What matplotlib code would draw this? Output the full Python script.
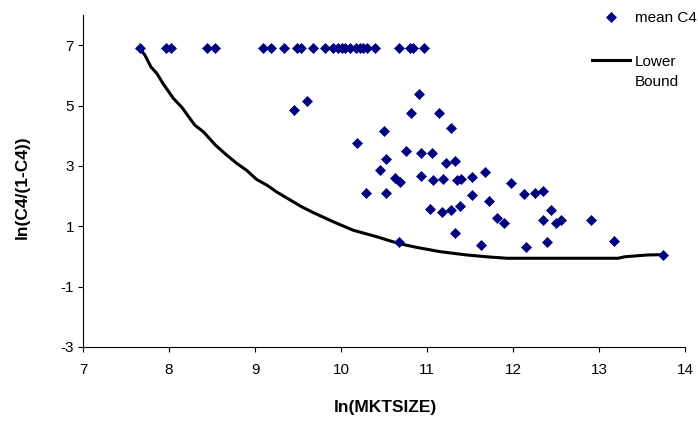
import matplotlib.pyplot as plt

plt.rcParams['font.family'] = ['Liberation Sans', 'DejaVu Sans']
plt.rcParams['font.size'] = 11

# ln(MKTSIZE) and ln(C4/(1-C4)) per market (C4 capped at 0.999 -> 6.9)
mktsize = [7.66, 7.96, 8.02, 8.44, 8.53, 9.09, 9.19, 9.34, 9.49, 9.54,
           9.68, 9.81, 9.91, 9.96, 10.01, 10.05, 10.11, 10.18, 10.22, 10.26,
           10.30, 10.40, 10.67, 10.80, 10.84, 10.97,
           9.45, 9.61, 10.91, 10.81, 11.14, 10.50, 11.28, 10.19, 10.76, 10.93,
           11.06, 10.52, 11.22, 11.32, 10.45, 11.67, 10.63, 10.69, 10.93, 11.07,
           11.19, 11.35, 11.40, 11.52, 10.29, 10.52, 11.52, 11.98, 12.13, 12.26,
           12.35, 11.72, 11.04, 11.17, 11.28, 11.38, 12.44, 11.81, 11.90, 12.35,
           12.50, 12.56, 12.91, 11.33, 10.67, 11.63, 12.15, 12.39, 13.18, 13.74]
c4_logit = [6.9, 6.9, 6.9, 6.9, 6.9, 6.9, 6.9, 6.9, 6.9, 6.9,
            6.9, 6.9, 6.9, 6.9, 6.9, 6.9, 6.9, 6.9, 6.9, 6.9,
            6.9, 6.9, 6.9, 6.9, 6.9, 6.9,
            4.85, 5.16, 5.37, 4.74, 4.74, 4.15, 4.26, 3.75, 3.48, 3.43,
            3.42, 3.22, 3.10, 3.16, 2.88, 2.80, 2.59, 2.47, 2.67, 2.53,
            2.57, 2.53, 2.57, 2.63, 2.10, 2.10, 2.04, 2.42, 2.06, 2.10,
            2.16, 1.84, 1.58, 1.47, 1.53, 1.68, 1.53, 1.27, 1.10, 1.21,
            1.12, 1.21, 1.21, 0.79, 0.47, 0.38, 0.32, 0.47, 0.51, 0.06]

# lower bound curve
lb_x = [7.66, 7.72, 7.79, 7.86, 7.93, 8.05, 8.15, 8.30, 8.40, 8.54,
        8.67, 8.79, 8.90, 9.02, 9.14, 9.25, 9.41, 9.54, 9.68, 9.91,
        10.14, 10.42, 10.67, 10.88, 11.15, 11.46, 11.69, 11.93, 12.24, 12.62,
        13.22, 13.30, 13.57, 13.74]
lb_y = [6.89, 6.67, 6.28, 6.06, 5.73, 5.24, 4.94, 4.35, 4.13, 3.69,
        3.36, 3.08, 2.86, 2.55, 2.36, 2.14, 1.87, 1.65, 1.45, 1.15,
        0.87, 0.65, 0.43, 0.30, 0.16, 0.05, -0.01, -0.06, -0.06, -0.06,
        -0.06, -0.01, 0.05, 0.06]

xticks = [7, 8, 9, 10, 11, 12, 13, 14]
yticks = [-3, -1, 1, 3, 5, 7]

fig = plt.figure(figsize=(6.98, 4.22), dpi=100)
ax = fig.add_axes([83/698, 1-347/422, 602/698, 332/422])

pts, = ax.plot(mktsize, c4_logit, linestyle='none', marker='D', markersize=5.2,
               color='#000080', markeredgewidth=0.5, label='mean C4', zorder=3)
lb, = ax.plot(lb_x, lb_y, color='black', linewidth=2.2, label='Lower', zorder=2)

ax.set_xlim(7, 14)
ax.set_ylim(-3, 8)
ax.set_xticks(xticks)
ax.set_yticks(yticks)
ax.set_xticklabels([str(v) for v in xticks])
ax.set_yticklabels([str(v) for v in yticks])

for s in ['top', 'right']:
    ax.spines[s].set_visible(False)
for s in ['left', 'bottom']:
    ax.spines[s].set_linewidth(0.8)
    ax.spines[s].set_color('black')
ax.tick_params(axis='x', direction='out', length=3.5, width=0.8, pad=8, labelsize=11)
ax.tick_params(axis='y', direction='out', length=3.5, width=0.8, pad=3, labelsize=11)

ax.set_xlabel('ln(MKTSIZE)', fontweight='bold', fontsize=12.5, va='top')
ax.xaxis.set_label_coords(0.502, -0.16)
ax.set_ylabel('ln(C4/(1-C4))', fontweight='bold', fontsize=12.5)
ax.yaxis.set_label_coords(-0.088, 0.48)

leg = ax.legend(handles=[pts, lb], loc='upper left', frameon=False,
                bbox_to_anchor=(592/698, 1-11/422), bbox_transform=fig.transFigure,
                borderpad=0, borderaxespad=0, handlelength=2.5, handletextpad=0.3,
                labelspacing=1.95, numpoints=1, fontsize=11)

# second line of the lower bound label, under "Lower"
fig.canvas.draw()
bb = leg.get_texts()[1].get_window_extent()
W, H = fig.bbox.width, fig.bbox.height
fig.text(bb.x0/W, ((bb.y0+bb.y1)/2 - 20)/H, 'Bound', va='center', ha='left', fontsize=11)

fig.savefig('out.png', dpi=100)
